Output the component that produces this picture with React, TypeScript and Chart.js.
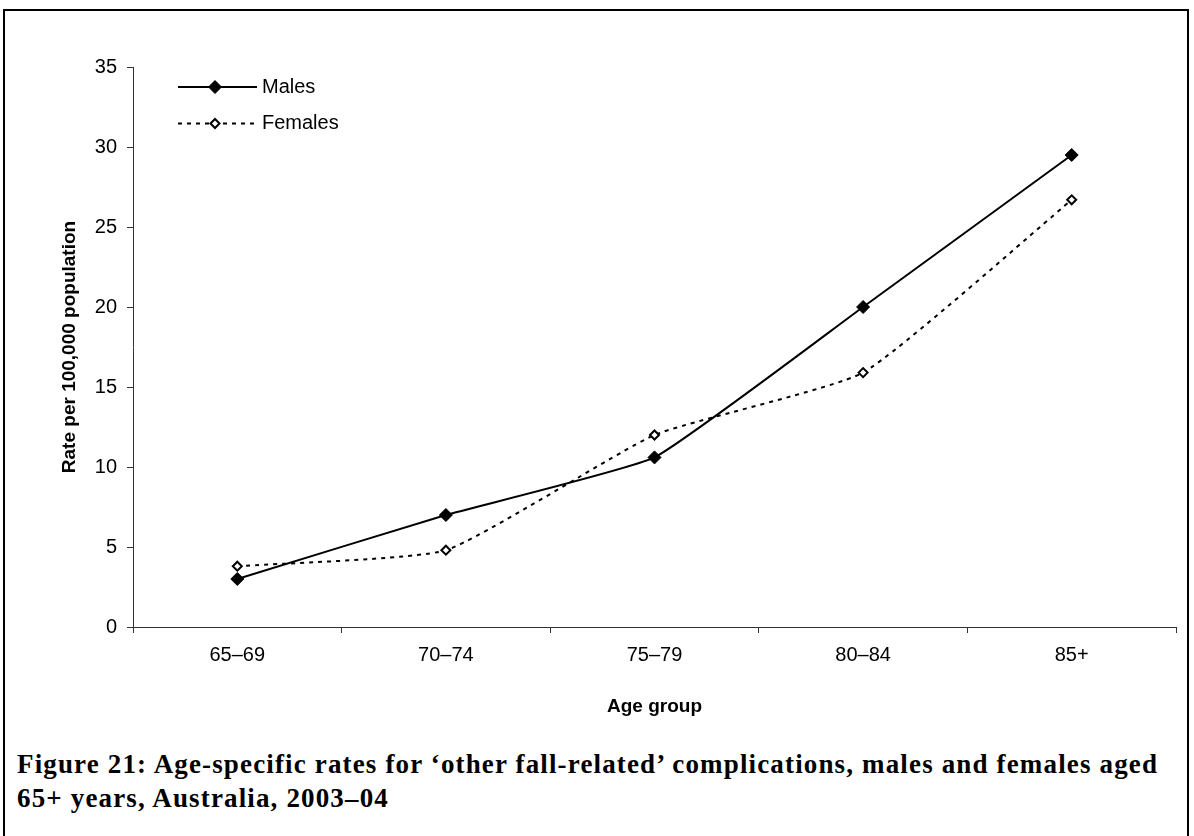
import React, { useEffect, useRef } from "react";
import { Chart, registerables } from "chart.js";

Chart.register(...registerables);

const categories = ["65–69", "70–74", "75–79", "80–84", "85+"];
const malesRates = [3.0, 7.0, 10.6, 20.0, 29.5];
const femalesRates = [3.8, 4.8, 12.0, 15.9, 26.7];
const seriesNames = ["Males", "Females"];
const yTitle = "Rate per 100,000 population";
const xTitle = "Age group";
const captionLine1 = "Figure 21: Age-specific rates for ‘other fall-related’ complications, males and females aged";
const captionLine2 = "65+ years, Australia, 2003–04";

const FONT = "'Liberation Sans', Arial, sans-serif";

const legendPlugin = {
  id: "insideLegend",
  afterDraw(chart: any) {
    const { ctx, chartArea } = chart;
    ctx.save();
    chart.data.datasets.forEach((ds: any, i: number) => {
      const y = chartArea.top + 20 + i * 36.5;
      const x0 = chartArea.left + 45;
      const x1 = chartArea.left + 124;
      const xm = chartArea.left + 82;
      ctx.strokeStyle = "#000";
      ctx.lineWidth = 2;
      ctx.setLineDash(ds.borderDash || []);
      ctx.beginPath();
      ctx.moveTo(x0, y);
      ctx.lineTo(x1, y);
      ctx.stroke();
      ctx.setLineDash([]);
      const r = ds.pointRadius;
      ctx.beginPath();
      ctx.moveTo(xm - r, y);
      ctx.lineTo(xm, y - r);
      ctx.lineTo(xm + r, y);
      ctx.lineTo(xm, y + r);
      ctx.closePath();
      ctx.fillStyle = ds.pointBackgroundColor;
      ctx.fill();
      ctx.lineWidth = ds.pointBorderWidth;
      ctx.strokeStyle = "#000";
      ctx.stroke();
      ctx.fillStyle = "#000";
      ctx.font = `20px ${FONT}`;
      ctx.textBaseline = "middle";
      ctx.textAlign = "left";
      ctx.fillText(ds.label, chartArea.left + 129, y);
    });
    ctx.restore();
  },
};

export default function App() {
  const ref = useRef<HTMLCanvasElement | null>(null);
  useEffect(() => {
    if (!ref.current) return;
    const chart = new Chart(ref.current, {
      type: "line",
      data: {
        labels: categories,
        datasets: [
          {
            label: seriesNames[0],
            data: malesRates,
            borderColor: "#000",
            borderWidth: 2,
            pointStyle: "rectRot",
            pointRadius: 6.5,
            pointBackgroundColor: "#000",
            pointBorderColor: "#000",
            pointBorderWidth: 1,
            tension: 0.12,
          },
          {
            label: seriesNames[1],
            data: femalesRates,
            borderColor: "#000",
            borderWidth: 2,
            borderDash: [4, 5],
            pointStyle: "rectRot",
            pointRadius: 4.5,
            pointBackgroundColor: "#fff",
            pointBorderColor: "#000",
            pointBorderWidth: 2,
            tension: 0.15,
          },
        ],
      },
      plugins: [legendPlugin],
      options: {
        animation: false,
        responsive: false,
        devicePixelRatio: 1,
        layout: { padding: { left: 0, top: 67, right: 18, bottom: 0 } },
        plugins: { legend: { display: false }, tooltip: { enabled: false } },
        scales: {
          x: {
            type: "category",
            offset: true,
            grid: { offset: true, drawOnChartArea: false, drawTicks: true, tickLength: 6, color: "#333" },
            border: { color: "#333", width: 1 },
            ticks: { color: "#000", font: { family: FONT, size: 20 }, padding: 10, maxRotation: 0 },
            title: { display: true, text: xTitle, color: "#000", font: { family: FONT, size: 19, weight: "bold" }, padding: { top: 0, bottom: 12 } },
            afterFit: (s: any) => { s.height = 103; },
          },
          y: {
            min: 0,
            max: 35,
            ticks: { stepSize: 5, color: "#000", font: { family: FONT, size: 20 }, padding: 10 },
            grid: { drawOnChartArea: false, drawTicks: true, tickLength: 6, color: "#333" },
            border: { color: "#333", width: 1 },
            title: { display: true, text: yTitle, color: "#000", font: { family: FONT, size: 19, weight: "bold" }, padding: { top: 58, bottom: 0 } },
            afterFit: (s: any) => { s.width = 133; },
          },
        },
      },
    });
    return () => chart.destroy();
  }, []);

  return (
    <div style={{ position: "absolute", left: 0, top: 0, width: 1194, height: 836, overflow: "hidden", background: "#fff" }}>
      <div style={{ position: "absolute", left: 3, top: 9, width: 1186, height: 900, border: "2px solid #000", boxSizing: "border-box" }} />
      <canvas ref={ref} width={1194} height={730} style={{ position: "absolute", left: 0, top: 0, width: 1194, height: 730 }} />
      <div style={{ position: "absolute", left: 17, top: 747, fontFamily: "'Liberation Serif', 'Times New Roman', serif", fontWeight: "bold", fontSize: 27, letterSpacing: "1.15px", lineHeight: "34px", color: "#000", whiteSpace: "nowrap" }}>
        {captionLine1}
        <br />
        {captionLine2}
      </div>
    </div>
  );
}
